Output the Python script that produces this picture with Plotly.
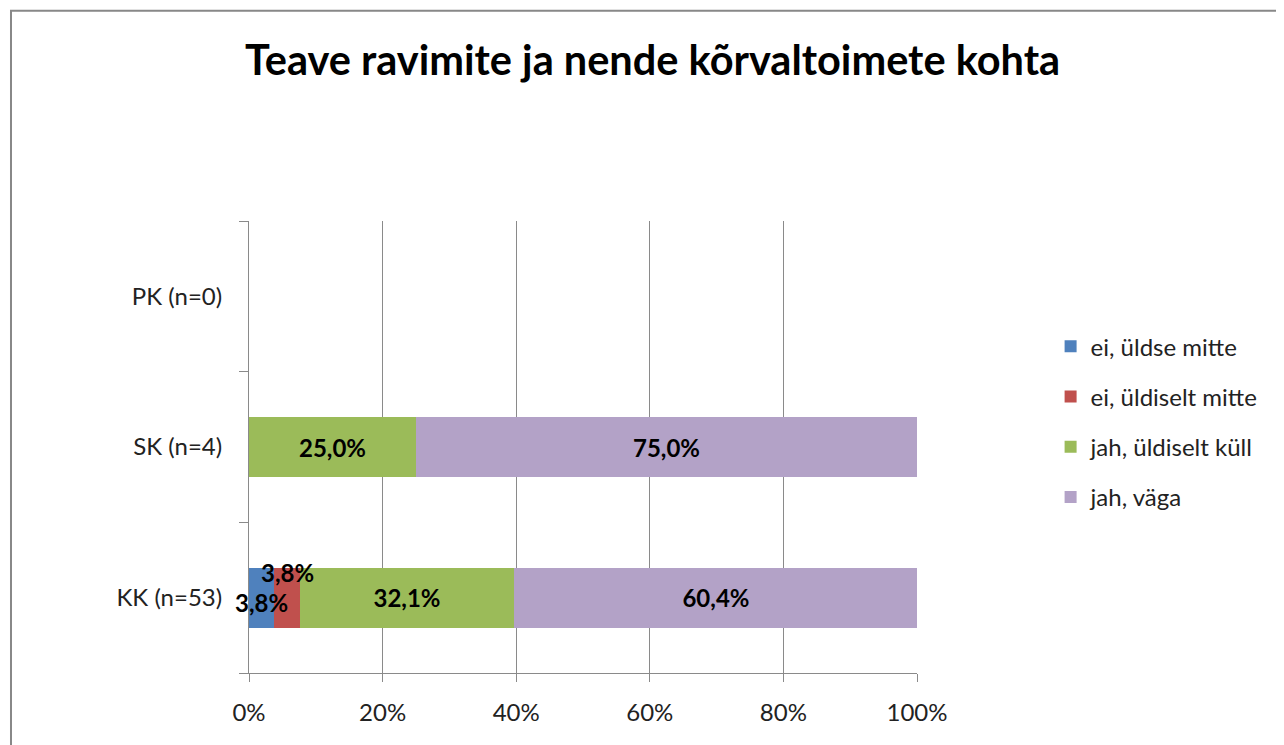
import plotly.graph_objects as go

# andmed
kategooriad = ["KK (n=53)", "SK (n=4)", "PK (n=0)"]
vastused = ["ei, üldse mitte", "ei, üldiselt mitte", "jah, üldiselt küll", "jah, väga"]
ei_uldse = [3.8, 0, None]
ei_uldiselt = [3.8, 0, None]
jah_uldiselt = [32.1, 25.0, None]
jah_vaga = [60.4, 75.0, None]
varvid = ["#4F81BD", "#C0504D", "#9BBB59", "#B3A2C7"]

FONT = "Lato"

def silt(v):
    if not v:
        return ""
    return f"{v:.1f}%".replace(".", ",")

fig = go.Figure()
seeriad = [ei_uldse, ei_uldiselt, jah_uldiselt, jah_vaga]
for i, (nimi, vaartused) in enumerate(zip(vastused, seeriad)):
    # väikesed lõigud saavad sildi eraldi (annotatsioon)
    tekstid = [silt(v) if (v or 0) >= 10 else "" for v in vaartused]
    fig.add_trace(go.Bar(
        y=kategooriad, x=vaartused, name=nimi, orientation="h",
        marker=dict(color=varvid[i], line=dict(width=0)),
        text=tekstid, textposition="inside", insidetextanchor="middle",
        textangle=0, textfont=dict(family=FONT, size=24, color="black", weight="bold"),
        legendgroup=nimi, hoverinfo="skip",
    ))

# KK väikeste lõikude sildid
alg = 0
nihked = [-5, 25]
for v, nihe in zip([ei_uldse[0], ei_uldiselt[0]], nihked):
    fig.add_annotation(x=alg + v / 2, y=kategooriad[0], text=silt(v), showarrow=False,
                       yshift=nihe, font=dict(family=FONT, size=24, color="black", weight="bold"))
    alg += v

# lehe 8px veeris on arvesse võetud
fig.update_layout(
    width=1284, height=745,
    barmode="stack", bargap=0.6,
    paper_bgcolor="white", plot_bgcolor="white",
    margin=dict(l=241, r=375, t=213, b=80),
    font=dict(family=FONT, size=24, color="#222"),
    title=dict(text="<b>Teave ravimite ja nende kõrvaltoimete kohta</b>",
               x=0.502, xanchor="center", y=0.929, yanchor="middle",
               font=dict(family=FONT, size=41.5, color="black")),
    uniformtext=dict(minsize=24, mode="show"),
    legend=dict(x=1.2, xanchor="left", y=0.556, yanchor="middle",
                traceorder="grouped", tracegroupgap=16,
                font=dict(family=FONT, size=24, color="#222"),
                itemclick=False),
    shapes=[dict(type="rect", xref="paper", yref="paper",
                 x0=-0.3563, x1=1.6, y0=-0.3, y1=1.465,
                 line=dict(color="#888", width=2), layer="below")],
)
fig.update_xaxes(range=[0, 100], tickvals=[0, 20, 40, 60, 80, 100],
                 ticktext=["0%", "20%", "40%", "60%", "80%", "100%"],
                 showgrid=True, gridcolor="#8a8a8a", gridwidth=1,
                 showline=True, linecolor="#8a8a8a", linewidth=1,
                 ticks="outside", ticklen=8, tickcolor="#8a8a8a",
                 ticklabelstandoff=10, zeroline=False, fixedrange=True)
fig.update_yaxes(categoryorder="array", categoryarray=kategooriad, range=[-0.5, 2.5],
                 showgrid=False, showline=True, linecolor="#8a8a8a", linewidth=1,
                 ticks="outside", ticklen=9, tickcolor="#8a8a8a", tickson="boundaries",
                 ticklabelstandoff=21, fixedrange=True)

fig.write_html("out.html")
